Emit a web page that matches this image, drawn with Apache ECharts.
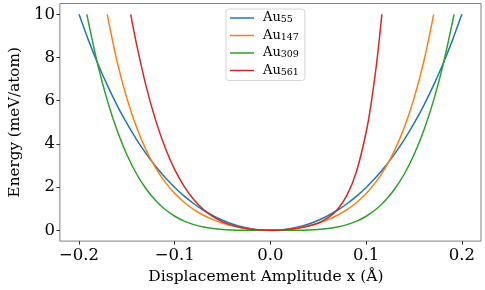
<!DOCTYPE html>
<html><head><meta charset="utf-8">
<script src="https://cdn.jsdelivr.net/npm/echarts@6/dist/echarts.min.js"></script>
<style>html,body{margin:0;padding:0;background:#fff}#c{width:485px;height:290px}</style>
</head><body><div id="c"></div>
<script>
const seriesNames = ['Au55', 'Au147', 'Au309', 'Au561'];
const seriesColors = ['#1f77b4', '#ff7f0e', '#2ca02c', '#d62728'];

const x55 = [-0.2,-0.19,-0.18,-0.17,-0.16,-0.15,-0.14,-0.13,-0.12,-0.11,-0.10,-0.09,-0.08,-0.07,-0.06,-0.05,-0.04,-0.03,-0.02,-0.01,0,
  0.01,0.02,0.03,0.04,0.05,0.06,0.07,0.08,0.09,0.10,0.11,0.12,0.13,0.14,0.15,0.16,0.17,0.18,0.19,0.2];
const e55 = [10.0,8.782,7.675,6.672,5.764,4.946,4.210,3.552,2.964,2.443,1.983,1.579,1.229,0.928,0.674,0.463,0.294,0.164,0.073,0.018,0,
  0.018,0.073,0.164,0.294,0.463,0.674,0.928,1.229,1.579,1.983,2.443,2.964,3.552,4.210,4.946,5.764,6.672,7.675,8.782,10.0];

const x147 = [-0.1706,-0.16,-0.15,-0.14,-0.13,-0.12,-0.11,-0.10,-0.09,-0.08,-0.07,-0.06,-0.05,-0.04,-0.03,-0.02,-0.01,0,
  0.01,0.02,0.03,0.04,0.05,0.06,0.07,0.08,0.09,0.10,0.11,0.12,0.13,0.14,0.15,0.16,0.1706];
const e147 = [10.0,7.776,6.109,4.780,3.726,2.890,2.228,1.704,1.289,0.959,0.698,0.492,0.330,0.206,0.113,0.050,0.012,0,
  0.012,0.050,0.113,0.206,0.330,0.492,0.698,0.959,1.289,1.704,2.228,2.890,3.726,4.780,6.109,7.776,10.0];

const x309 = [-0.1919,-0.18,-0.17,-0.16,-0.15,-0.14,-0.13,-0.12,-0.11,-0.10,-0.09,-0.08,-0.07,-0.06,-0.05,-0.04,-0.03,-0.02,-0.01,0,
  0.01,0.02,0.03,0.04,0.05,0.06,0.07,0.08,0.09,0.10,0.11,0.12,0.13,0.14,0.15,0.16,0.17,0.18,0.1919];
const e309 = [10.0,7.591,5.945,4.594,3.498,2.618,1.922,1.378,0.962,0.651,0.423,0.262,0.152,0.082,0.039,0.016,0.005,0.001,0.000,0,
  0.000,0.001,0.005,0.016,0.039,0.082,0.152,0.262,0.423,0.651,0.962,1.378,1.922,2.618,3.498,4.594,5.945,7.591,10.0];

const x561 = [-0.146,-0.14,-0.13,-0.12,-0.11,-0.10,-0.09,-0.08,-0.07,-0.06,-0.05,-0.04,-0.03,-0.02,-0.01,0,
  0.01,0.02,0.03,0.04,0.05,0.06,0.07,0.08,0.09,0.10,0.105,0.11,0.113,0.1164];
const e561 = [10.0,8.635,6.688,5.100,3.823,2.811,2.021,1.416,0.962,0.629,0.391,0.227,0.117,0.049,0.012,0,
  0.012,0.046,0.106,0.198,0.340,0.572,0.962,1.625,2.733,4.540,5.811,7.397,8.526,10.0];

const xTicks = [-0.2, -0.1, 0, 0.1, 0.2];
const yTicks = [0, 2, 4, 6, 8, 10];

const xsAll = [x55, x147, x309, x561];
const esAll = [e55, e147, e309, e561];
function pairs(xs, es) { return xs.map((x, i) => [x, es[i]]); }

const font = 'DejaVu Serif';
const chart = echarts.init(document.getElementById('c'), null, {renderer: 'canvas'});
chart.setOption({
  animation: false,
  backgroundColor: '#fff',
  grid: {left: 44, right: 4, top: 3.5, bottom: 42, show: true, borderColor: '#808080', borderWidth: 1, backgroundColor: 'transparent'},
  xAxis: {
    type: 'value', min: -0.22, max: 0.22,
    axisLine: {show: false, onZero: false}, splitLine: {show: false},
    axisTick: {show: true, customValues: xTicks, length: 3.5, lineStyle: {color: '#333', width: 1}},
    axisLabel: {customValues: xTicks, fontFamily: font, fontSize: 16.5, color: '#000', margin: 6,
      formatter: v => (v < 0 ? '\u2212' : '') + Math.abs(v).toFixed(1)},
    name: 'Displacement Amplitude x (\u00C5)', nameLocation: 'middle', nameGap: 20,
    nameTextStyle: {fontFamily: font, fontSize: 15.5, color: '#000', padding: [0, 9, 0, 0]}
  },
  yAxis: {
    type: 'value', min: -0.5, max: 10.5,
    axisLine: {show: false, onZero: false}, splitLine: {show: false},
    axisTick: {show: true, customValues: yTicks, length: 3.5, lineStyle: {color: '#333', width: 1}},
    axisLabel: {customValues: yTicks, fontFamily: font, fontSize: 16.5, color: '#000', margin: 5,
      formatter: v => String(Math.round(v))},
    name: 'Energy (meV/atom)', nameLocation: 'middle', nameGap: 30,
    nameTextStyle: {fontFamily: font, fontSize: 15.2, color: '#000'}
  },
  legend: {
    left: 226, top: 9, orient: 'vertical', icon: 'rect', itemWidth: 24, itemHeight: 1.5, itemGap: 3.5,
    padding: [2, 6, 3, 4], borderColor: '#d5d5d5', borderWidth: 1, borderRadius: 3,
    backgroundColor: 'rgba(255,255,255,0.85)',
    data: seriesNames,
    formatter: name => 'Au{s|' + name.slice(2) + '}',
    textStyle: {fontFamily: font, fontSize: 13, color: '#000', lineHeight: 14, padding: [0, 0, 0, 4],
      rich: {s: {fontFamily: font, fontSize: 9.5, color: '#000', verticalAlign: 'bottom', lineHeight: 10}}}
  },
  series: seriesNames.map((n, i) => ({
    name: n, type: 'line', data: pairs(xsAll[i], esAll[i]),
    symbol: 'none', showSymbol: false, smooth: 0.3,
    color: seriesColors[i],
    lineStyle: {width: 1.5, color: seriesColors[i]}
  }))
});
</script>
</body></html>
